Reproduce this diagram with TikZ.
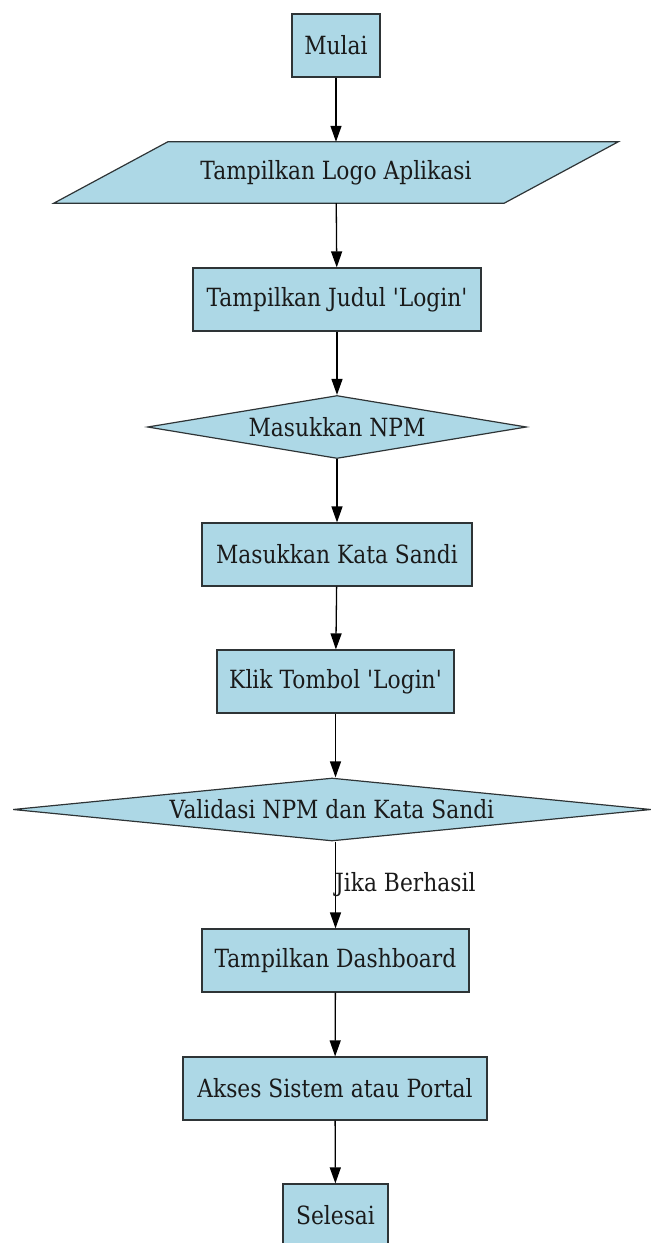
\documentclass[tikz,border=0pt]{standalone}
\usepackage{fontspec}
\setmainfont{DejaVu Serif}
\usetikzlibrary{shapes.geometric,arrows.meta,backgrounds}
\definecolor{boxfill}{HTML}{ADD8E6}
\definecolor{boxline}{HTML}{2E3436}
\definecolor{txt}{HTML}{1A1A1A}
\newcommand{\stretchtxt}[1]{\scalebox{1}[1.15]{#1}}
\newcommand{\sq}{\textquotesingle}
\tikzset{
  base/.style={fill=boxfill, draw=boxline, line width=1.2pt, text=txt, inner sep=0pt,
    font=\fontsize{21.8}{24}\selectfont},
  procbox/.style={base, rectangle, minimum height=63pt},
  decbox/.style={base, diamond, aspect=6, minimum height=63pt},
  iotext/.style={rectangle, text=txt, inner sep=0pt, font=\fontsize{21.8}{24}\selectfont,
    minimum height=61pt},
  ioshape/.style={fill=boxfill, draw=boxline, line width=1.2pt, line join=miter},
  flow/.style={-{Triangle[length=16pt,width=11pt]}, line width=1.3pt, draw=black},
  lbl/.style={text=txt, inner sep=0pt, font=\fontsize{21.8}{24}\selectfont}
}
\begin{document}
\begin{tikzpicture}[x=1pt,y=-1pt]
\useasboundingbox (0,0) rectangle (652,1243);
\node[procbox, minimum width=88pt] (mulai) at (336,45.5) {\stretchtxt{Mulai}};
\node[iotext, minimum width=450pt] (logo) at (336,172.5) {\stretchtxt{Tampilkan Logo Aplikasi}};
\begin{scope}[on background layer]
\draw[ioshape] ([xshift=-57pt]logo.south west) -- ([xshift=57pt]logo.north west)
  -- ([xshift=57pt]logo.north east) -- ([xshift=-57pt]logo.south east) -- cycle;
\end{scope}
\node[procbox, minimum width=288pt] (judul) at (337,299.5) {\stretchtxt{Tampilkan Judul \sq Login\sq}};
\node[decbox, minimum width=379pt, minimum height=63pt] (npm) at (337,427) {\stretchtxt{Masukkan NPM}};
\node[procbox, minimum width=270pt] (sandi) at (337,554.5) {\stretchtxt{Masukkan Kata Sandi}};
\node[procbox, minimum width=237pt] (klik) at (335.5,681.5) {\stretchtxt{Klik Tombol \sq Login\sq}};
\node[decbox, minimum width=638pt, minimum height=63pt, aspect=10] (valid) at (332,809.5) {\stretchtxt{Validasi NPM dan Kata Sandi}};
\node[procbox, minimum width=267pt] (dash) at (335.5,960.5) {\stretchtxt{Tampilkan Dashboard}};
\node[procbox, minimum width=304pt] (akses) at (335,1088.5) {\stretchtxt{Akses Sistem atau Portal}};
\node[procbox, minimum width=105pt] (selesai) at (335.5,1215.5) {\stretchtxt{Selesai}};
\draw[flow] (mulai) -- (logo);
\draw[flow] (logo) -- (judul);
\draw[flow] (judul) -- (npm);
\draw[flow] (npm) -- (sandi);
\draw[flow] (sandi) -- (klik);
\draw[flow] (klik.south) -- (klik.south |- valid.north);
\draw[flow] (valid.south -| dash.north) -- (dash.north) node[lbl, pos=0.5, anchor=west, xshift=-1pt] {\stretchtxt{Jika Berhasil}};
\draw[flow] (dash) -- (akses);
\draw[flow] (akses) -- (selesai);
\end{tikzpicture}
\end{document}
